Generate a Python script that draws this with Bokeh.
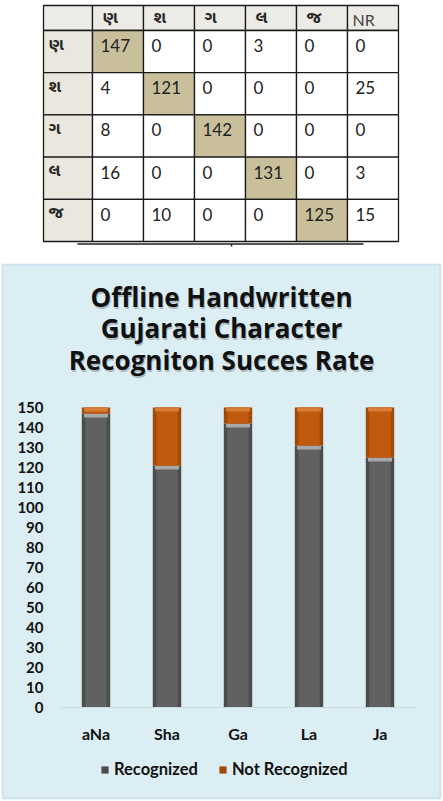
from bokeh.plotting import figure
from bokeh.models import (Range1d, Legend, LegendItem, Label, LinearAxis,
                          BoxAnnotation, ColumnDataSource, FixedTicker)
from bokeh.core.properties import value
from bokeh.embed import file_html
from bokeh.resources import INLINE

# ---------------- data ----------------
row_labels = ["ણ", "શ", "ગ", "લ", "જ"]
col_labels = ["ણ", "શ", "ગ", "લ", "જ", "NR"]
matrix = [
    [147, 0, 0, 3, 0, 0],
    [4, 121, 0, 0, 0, 25],
    [8, 0, 142, 0, 0, 0],
    [16, 0, 0, 131, 0, 3],
    [0, 10, 0, 0, 125, 15],
]

categories = ["aNa", "Sha", "Ga", "La", "Ja"]
recognized = [147, 121, 142, 131, 125]
not_recognized = [3, 29, 8, 19, 25]
y_ticks = [0, 10, 20, 30, 40, 50, 60, 70, 80, 90, 100, 110, 120, 130, 140, 150]
title_lines = ["Offline Handwritten", "Gujarati Character", "Recogniton Succes Rate"]
legend_labels = ["Recognized", "Not Recognized"]

GUJ_FONT = "Noto Sans Gujarati, Lohit Gujarati, Noto Sans, sans-serif"
NUM_FONT = "Lato"

# ---------------- table figure ----------------
TW, TH = 443, 255
t = figure(width=TW, height=TH, x_range=Range1d(0, TW), y_range=Range1d(TH, 0),
           output_backend="svg", toolbar_location=None,
           min_border_left=0, min_border_right=0, min_border_top=0,
           min_border_bottom=0,
           outline_line_color=None, background_fill_color="white",
           border_fill_color="white")
t.axis.visible = False
t.grid.visible = False

x0, first_w, col_w = 43, 49, 51
y0, head_h, row_h = 5, 25, 42.2
xedges = [x0, x0 + first_w] + [x0 + first_w + col_w * (i + 1) for i in range(len(col_labels))]
yedges = [y0, y0 + head_h] + [y0 + head_h + row_h * (i + 1) for i in range(len(row_labels))]

L, R, T, B, F = [], [], [], [], []
for r in range(len(row_labels) + 1):
    for c in range(len(col_labels) + 1):
        L.append(xedges[c]); R.append(xedges[c + 1])
        T.append(yedges[r]); B.append(yedges[r + 1])
        if r == 0:
            F.append("#ecebe5")
        elif c == 0:
            F.append("#e9e7de")
        elif r == c:
            F.append("#c9c09b")
        else:
            F.append("#ffffff")
t.quad(left=L, right=R, top=T, bottom=B, fill_color=F,
       line_color="#1a1a1a", line_width=1.3)

guj_cols = col_labels[:-1]
t.text(x=[xedges[c + 1] + 10 for c in range(len(guj_cols))],
       y=[y0 + head_h / 2 + 1] * len(guj_cols),
       text=guj_cols, text_font=value(GUJ_FONT), text_font_size="17px",
       text_font_style="bold", text_baseline="middle", text_color="#2a2a2a")
t.text(x=[xedges[len(col_labels)] + 5], y=[y0 + head_h / 2 + 1],
       text=col_labels[-1:], text_font=value(NUM_FONT), text_font_size="16px",
       text_baseline="middle", text_color="#444444")
t.text(x=[x0 + 5] * len(row_labels),
       y=[yedges[r + 1] + 15 for r in range(len(row_labels))],
       text=row_labels, text_font=value(GUJ_FONT), text_font_size="17px",
       text_font_style="bold", text_baseline="middle", text_color="#2a2a2a")
nx, ny, nt = [], [], []
for r, row in enumerate(matrix):
    for c, v in enumerate(row):
        nx.append(xedges[c + 1] + 8)
        ny.append(yedges[r + 1] + 15)
        nt.append(str(v))
t.text(x=nx, y=ny, text=nt, text_font=value(NUM_FONT), text_font_size="17px",
       text_baseline="middle", text_color="#222222")
# stray underline below the table
t.segment(x0=[77, 231], y0=[243.5, 243.5], x1=[363, 231], y1=[243.5, 246],
          line_color="#222222", line_width=1.5)

# ---------------- chart figure ----------------
# canvas = frame (axes are fixed inside it); pixel layout of the plot area
CW, CH = 443, 546
PX_LEFT, PX_RIGHT = 60, 28          # plot area margins (px)
PX_BOTTOM, PX_TOP = 94, 152         # plot area margins (px)
slot = (CW - PX_LEFT - PX_RIGHT) / len(categories)
ppu = (CH - PX_BOTTOM - PX_TOP) / 150.0
x_rng = Range1d(-0.5 - PX_LEFT / slot, len(categories) - 0.5 + PX_RIGHT / slot)
y_rng = Range1d(0 - PX_BOTTOM / ppu, 150 + PX_TOP / ppu)

PANEL = "#dbeef4"
xs = list(range(len(categories)))
src = ColumnDataSource(dict(x=xs, rec=recognized, nr=not_recognized,
                            tot=[a + b for a, b in zip(recognized, not_recognized)],
                            rec_hi=[a - 2 for a in recognized],
                            tot_hi=[a + b - 2 for a, b in zip(recognized, not_recognized)]))

p = figure(width=CW, height=CH, x_range=x_rng, y_range=y_rng,
           output_backend="svg", toolbar_location=None,
           x_axis_location=None, y_axis_location=None,
           min_border_left=0, min_border_right=0, min_border_top=0,
           min_border_bottom=0,
           background_fill_color="white", border_fill_color="white",
           outline_line_color=None)
p.grid.visible = False

p.add_layout(BoxAnnotation(left=2, right=440, bottom=3, top=537,
                           left_units="screen", right_units="screen",
                           bottom_units="screen", top_units="screen",
                           fill_color=PANEL, fill_alpha=1,
                           line_color="#8db2d8", line_width=2,
                           level="underlay"))

r_rec = p.vbar(x="x", bottom=0, top="rec", width=0.4, source=src,
               fill_color="#4c4c4c", line_color=None)
p.vbar(x="x", bottom=0, top="rec", width=0.3, source=src,
       fill_color="#616161", line_color=None)
p.vbar(x="x", bottom="rec_hi", top="rec", width=0.34, source=src,
       fill_color="#a8a8a8", line_color=None)
r_nr = p.vbar(x="x", bottom="rec", top="tot", width=0.4, source=src,
              fill_color="#a04908", line_color=None)
p.vbar(x="x", bottom="rec", top="tot", width=0.3, source=src,
       fill_color="#c15a0e", line_color=None)
p.vbar(x="x", bottom="tot_hi", top="tot", width=0.34, source=src,
       fill_color="#d67a34", line_color=None)

yaxis = LinearAxis(fixed_location=-0.5, ticker=FixedTicker(ticks=y_ticks))
xaxis = LinearAxis(fixed_location=0, ticker=FixedTicker(ticks=xs),
                   major_label_overrides={i: c for i, c in zip(xs, categories)},
                   bounds=(-0.5, len(categories) - 0.5))
p.add_layout(yaxis, "left")
p.add_layout(xaxis, "below")
for ax in (xaxis, yaxis):
    ax.major_tick_line_color = None
    ax.minor_tick_line_color = None
    ax.major_tick_out = 0
    ax.major_tick_in = 0
    ax.minor_tick_out = 0
    ax.minor_tick_in = 0
    ax.major_label_text_font = NUM_FONT
    ax.major_label_text_font_style = "bold"
    ax.major_label_text_color = "#111111"
yaxis.axis_line_color = None
yaxis.major_label_text_font_size = "15px"
yaxis.major_label_standoff = 17
xaxis.axis_line_color = "#c9dce6"
xaxis.major_label_text_font_size = "16px"
xaxis.major_label_standoff = 16

# title (with soft shadow)
title_y = [505, 474, 442]
for txt, yy in zip(title_lines, title_y):
    p.add_layout(Label(x=222, y=yy - 2, x_units="screen", y_units="screen",
                       text=txt, text_align="center", text_baseline="middle",
                       text_font="Open Sans", text_font_size="26px",
                       text_font_style="bold", text_color="#000000",
                       text_alpha=0.22))
    p.add_layout(Label(x=221, y=yy, x_units="screen", y_units="screen",
                       text=txt, text_align="center", text_baseline="middle",
                       text_font="Open Sans", text_font_size="26px",
                       text_font_style="bold", text_color="#111111"))

legend = Legend(items=[LegendItem(label=legend_labels[0], renderers=[r_rec]),
                       LegendItem(label=legend_labels[1], renderers=[r_nr])],
                orientation="horizontal", location=(100, 22),
                glyph_width=9, glyph_height=9, label_height=17,
                label_standoff=5, spacing=20, padding=0, margin=0,
                border_line_color=None, background_fill_alpha=0,
                label_text_font=NUM_FONT, label_text_font_size="16.5px",
                label_text_font_style="bold", label_text_color="#111111")
p.add_layout(legend)

open("out.html", "w").write(file_html([t, p], INLINE))
